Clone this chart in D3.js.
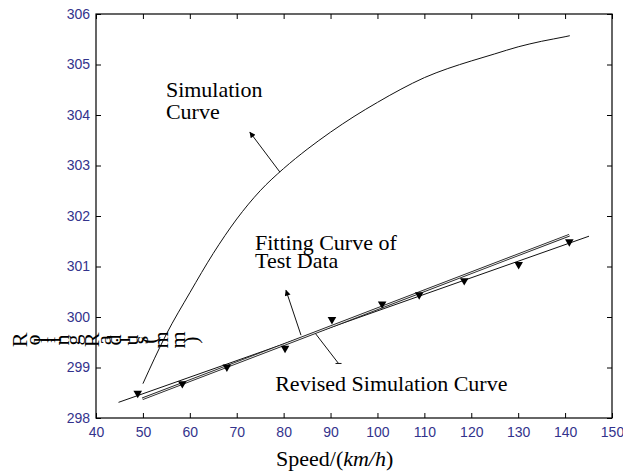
<!DOCTYPE html>
<html><head><meta charset="utf-8">
<script src="https://cdn.jsdelivr.net/npm/d3@7"></script>
<style>body{margin:0;background:#fff}svg{display:block}</style>
</head><body>
<svg id="c" width="623" height="473"></svg>
<script>
// ---- data ----
const xTicks = [40,50,60,70,80,90,100,110,120,130,140,150];
const yTicks = [298,299,300,301,302,303,304,305,306];
const simSpeed = [50,55,60,65,70,75,80,85,90,95,100,105,110,115,120,125,130,135,140,141];
const simRadius = [298.68,299.66,300.48,301.26,301.94,302.5,302.94,303.32,303.66,303.97,304.25,304.51,304.74,304.92,305.07,305.21,305.35,305.46,305.55,305.57];
const fitSpeed = [44.8,145.1];
const fitRadius = [298.31,301.6];
const revSpeed = [49.9,80,110,140.9];
const revRadius = [298.38,299.45,300.52,301.62];
const testSpeed = [48.9,58.4,67.9,80.3,90.3,101,108.9,118.5,130.1,140.9];
const testRadius = [298.49,298.68,299.01,299.38,299.95,300.26,300.44,300.72,301.04,301.49];
const xLabel = ["Speed/(", "km/h", ")"];
const yLabel = "Rolling Radius(mm)";
const notes = [
  {lines:["Simulation","Curve"], x:54.9, y:304.36, lh:22},
  {lines:["Fitting Curve of","Test Data"], x:73.9, y:301.33, lh:18},
  {lines:["Revised Simulation Curve"], x:78.2, y:298.53, lh:22}
];
const arrows = [
  {from:[79.2,302.87], to:[72.8,303.66], head:true},
  {from:[83.7,299.64], to:[80.5,300.53], head:true},
  {from:[86.8,299.67], to:[91.7,299.08], head:false}
];

// ---- layout ----
const svg = d3.select("#c");
const L = 96, R = 612, T = 14, B = 418;
const x = d3.scaleLinear().domain([40,150]).range([L,R]);
const y = d3.scaleLinear().domain([298,306]).range([B,T]);
const tickColor = "#33338c";
const serif = "'Liberation Serif','Times New Roman',serif";

svg.append("defs").append("marker")
  .attr("id","ah").attr("viewBox","0 0 10 10").attr("refX",9).attr("refY",5)
  .attr("markerWidth",8).attr("markerHeight",6).attr("markerUnits","userSpaceOnUse")
  .attr("orient","auto")
  .append("path").attr("d","M0,0 L10,5 L0,10 Z").attr("fill","#000");

// axes (ticks inward)
const fmtAxis = g => {
  g.selectAll(".domain").remove();
  g.selectAll(".tick line").attr("stroke","#000");
  g.selectAll("text").attr("fill",tickColor)
   .style("font-family","'Liberation Sans',Arial,sans-serif").style("font-size","14px");
};
svg.append("g").attr("transform",`translate(0,${B})`)
  .call(d3.axisBottom(x).tickValues(xTicks).tickSizeInner(-5).tickSizeOuter(0).tickPadding(9))
  .call(fmtAxis);
svg.append("g").attr("transform",`translate(0,${T})`)
  .call(d3.axisTop(x).tickValues(xTicks).tickSizeInner(-5).tickSizeOuter(0).tickFormat(""))
  .call(fmtAxis);
svg.append("g").attr("transform",`translate(${L},0)`)
  .call(d3.axisLeft(y).tickValues(yTicks).tickSizeInner(-5).tickSizeOuter(0).tickPadding(6))
  .call(fmtAxis);
svg.append("g").attr("transform",`translate(${R},0)`)
  .call(d3.axisRight(y).tickValues(yTicks).tickSizeInner(-5).tickSizeOuter(0).tickFormat(""))
  .call(fmtAxis);
svg.append("rect").attr("x",L).attr("y",T).attr("width",R-L).attr("height",B-T)
  .attr("fill","none").attr("stroke","#000").attr("stroke-width",1.2);

// curves
const zip = (a,b)=>a.map((v,i)=>[v,b[i]]);
const smooth = d3.line().x(d=>x(d[0])).y(d=>y(d[1])).curve(d3.curveMonotoneX);
const lin = d3.line().x(d=>x(d[0])).y(d=>y(d[1]));
svg.append("path").datum(zip(simSpeed,simRadius))
  .attr("d",smooth).attr("fill","none").attr("stroke","#111").attr("stroke-width",1);
svg.append("path").datum(zip(fitSpeed,fitRadius))
  .attr("d",lin).attr("fill","none").attr("stroke","#111").attr("stroke-width",1);
const revG = svg.append("g");
revG.append("path").datum(zip(revSpeed,revRadius))
  .attr("d",lin).attr("fill","none").attr("stroke","#222").attr("stroke-width",2.6);
revG.append("path").datum(zip(revSpeed,revRadius))
  .attr("d",lin).attr("fill","none").attr("stroke","#fff").attr("stroke-width",0.9);

// test data markers
svg.append("g").selectAll("path").data(zip(testSpeed,testRadius)).join("path")
  .attr("d",d3.symbol(d3.symbolTriangle,32))
  .attr("transform",d=>`translate(${x(d[0])},${y(d[1])}) rotate(180)`)
  .attr("fill","#000");

// arrows
arrows.forEach(a=>{
  svg.append("line").attr("x1",x(a.from[0])).attr("y1",y(a.from[1]))
    .attr("x2",x(a.to[0])).attr("y2",y(a.to[1]))
    .attr("stroke","#111").attr("stroke-width",1)
    .attr("marker-end",a.head?"url(#ah)":null);
  if(!a.head){
    svg.append("line").attr("x1",x(a.to[0])-3).attr("y1",y(a.to[1]))
      .attr("x2",x(a.to[0])+3).attr("y2",y(a.to[1]))
      .attr("stroke","#111").attr("stroke-width",1);
  }
});

// annotations
notes.forEach(n=>{
  const t = svg.append("text").attr("x",x(n.x)).attr("y",y(n.y))
    .style("font-family",serif).style("font-size","22px").attr("fill","#000");
  n.lines.forEach((s,i)=>t.append("tspan").attr("x",x(n.x)).attr("dy",i?n.lh:0).text(s));
});

// x label
const xl = svg.append("text").attr("x",276).attr("y",466)
  .style("font-family",serif).style("font-size","22px").attr("fill","#000");
xLabel.forEach((s,i)=>xl.append("tspan").style("font-style",i===1?"italic":"normal").text(s));

// y label: each character rotated in place
const tmp = svg.append("text").attr("x",12).attr("y",340)
  .style("font-family",serif).style("font-size","22px").text(yLabel);
const centers = [];
for(let i=0;i<yLabel.length;i++){
  const e = tmp.node().getExtentOfChar(i);
  centers.push(e.x + e.width/2);
}
tmp.remove();
svg.append("g").selectAll("text").data(yLabel.split("").map((c,i)=>({c,cx:centers[i]})).filter(d=>d.c!==" "))
  .join("text")
  .attr("transform",d=>`translate(${d.cx},340) rotate(-90)`)
  .attr("text-anchor","middle").attr("dy","0.35em")
  .style("font-family",serif).style("font-size","22px").attr("fill","#000")
  .text(d=>d.c);
</script>
</body></html>
